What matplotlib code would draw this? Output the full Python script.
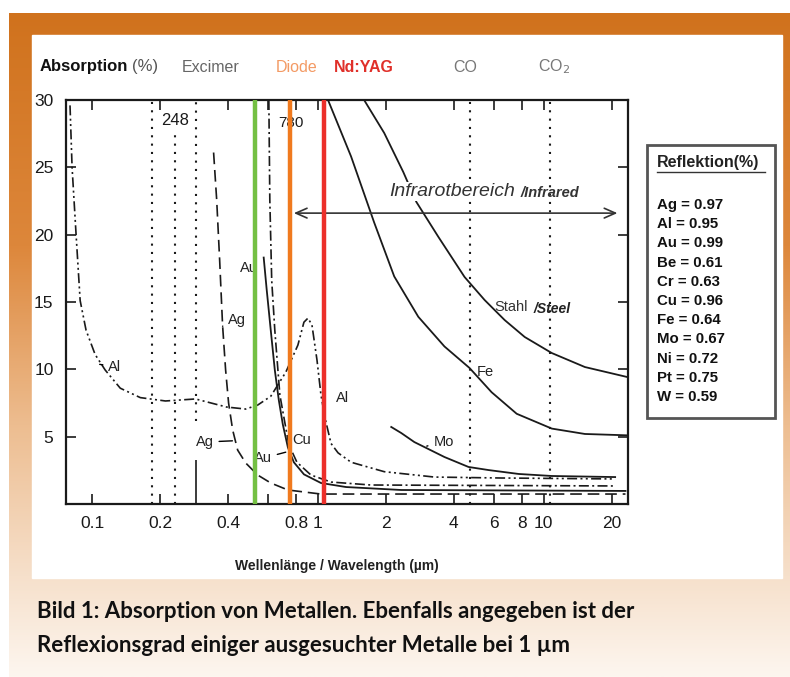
import matplotlib
matplotlib.use("Agg")
import matplotlib.pyplot as plt
import numpy as np
from matplotlib.colors import LinearSegmentedColormap
from matplotlib.patches import Rectangle
from matplotlib.ticker import NullLocator

plt.rcParams['font.family'] = ['Liberation Sans', 'DejaVu Sans']

# absorption (%) over wavelength (um)
al_wl = [0.0798, 0.0815, 0.0849, 0.0885, 0.094, 0.1031, 0.1142, 0.1332, 0.1634, 0.2111, 0.287, 0.394,
         0.4786, 0.5412, 0.618, 0.721, 0.8149, 0.8666, 0.9028, 0.9404, 0.9899, 1.031, 1.074, 1.142,
         1.227, 1.402, 1.965, 3.279, 6.507, 20.7]
al_abs = [29.6, 25.0, 20.0, 15.1, 12.9, 11.1, 9.95, 8.6, 7.9, 7.65, 7.8, 7.2,
          7.05, 7.35, 8.0, 9.8, 11.8, 13.5, 13.8, 13.3, 10.7, 8.1, 6.4, 4.5,
          3.8, 3.1, 2.4, 2.0, 1.93, 1.86]

ag_wl = [0.345, 0.356, 0.367, 0.378, 0.390, 0.402, 0.419, 0.441, 0.479, 0.541, 0.618, 0.736, 1.03, 23.0]
ag_abs = [26.1, 22.6, 18.1, 13.3, 9.95, 7.5, 5.5, 4.0, 3.04, 2.15, 1.56, 1.04, 0.74, 0.74]

au_wl = [0.575, 0.593, 0.618, 0.644, 0.671, 0.699, 0.736, 0.782, 0.867, 1.031, 1.331, 2.339, 23.0]
au_abs = [18.3, 15.9, 12.9, 9.95, 7.7, 5.9, 4.2, 3.1, 2.2, 1.56, 1.26, 1.04, 0.97]

cu_wl = [0.606, 0.612, 0.624, 0.644, 0.678, 0.743, 0.807, 0.931, 1.142, 1.72, 20.7]
cu_abs = [30.0, 22.6, 16.6, 12.9, 8.1, 4.4, 3.1, 2.15, 1.63, 1.41, 1.34]

fe_wl = [1.108, 1.402, 1.774, 2.176, 2.782, 3.631, 4.69, 5.874, 7.586, 10.85, 15.21, 23.4]
fe_abs = [30.0, 25.8, 20.9, 16.9, 13.9, 11.7, 10.1, 8.3, 6.7, 5.6, 5.2, 5.1]

steel_wl = [1.601, 1.965, 2.387, 2.727, 3.415, 4.457, 5.468, 6.709, 8.234, 10.85, 15.21, 23.4]
steel_abs = [30.0, 27.55, 24.65, 22.43, 19.83, 16.86, 15.15, 13.66, 12.40, 11.21, 10.17, 9.43]

mo_wl = [2.111, 2.338, 2.671, 2.959, 3.631, 4.642, 5.696, 7.743, 10.85, 20.7]
mo_abs = [5.72, 5.27, 4.60, 4.23, 3.49, 2.75, 2.52, 2.23, 2.08, 2.0]

# laser wavelengths (um)
green_wl = 0.525
diode_wl = 0.75
ndyag_wl = 1.064
excimer_wl = [0.185, 0.232, 0.288]
excimer_top = [30, 27.4, 30]
excimer_bottom = [0, 0, 6.2]
co_wl = 4.7
co2_wl = 10.6

xticks = [0.1, 0.2, 0.4, 0.6, 0.8, 1, 2, 4, 6, 8, 10, 20]
xtick_labels = ['0.1', '0.2', '0.4', '', '0.8', '1', '2', '4', '6', '8', '10', '20']
yticks = [5, 10, 15, 20, 25, 30]

metals = ['Ag', 'Al', 'Au', 'Be', 'Cr', 'Cu', 'Fe', 'Mo', 'Ni', 'Pt', 'W']
reflexion = ['0.97', '0.95', '0.99', '0.61', '0.63', '0.96', '0.64', '0.67', '0.72', '0.75', '0.59']

fig = plt.figure(figsize=(7.9, 6.77), dpi=100)

# frame / background in pixel coordinates
bg = fig.add_axes([0, 0, 1, 1], zorder=0)
frame = LinearSegmentedColormap.from_list(
    'frame', [(0, '#d0721d'), (0.35, '#dd873b'), (0.62, '#edbd90'), (0.85, '#f6e0cb'), (1, '#fdf6ef')])
bg.imshow(np.linspace(0, 1, 256).reshape(-1, 1), cmap=frame, extent=[9, 790, 677, 13], aspect='auto')
bg.add_patch(Rectangle((32, 35), 750, 543, color='white'))
bg.set_xlim(0, 790)
bg.set_ylim(677, 0)
bg.axis('off')

# header
bg.text(40, 67, 'Absorption', weight='bold', size=12, va='center', color='#111')
bg.text(132, 67, '(%)', size=12, va='center', color='#555')
bg.text(182, 67, 'Excimer', size=11.5, va='center', color='#666')
bg.text(276, 67, 'Diode', size=11.5, va='center', color='#f39a64')
bg.text(334, 67, 'Nd:YAG', weight='bold', size=11.5, va='center', color='#e0302a')
bg.text(453, 67, 'CO', size=11.5, va='center', color='#777')
bg.text(538, 67, 'CO$_2$', size=11.5, va='center', color='#777')

# reflexion box
bg.add_patch(Rectangle((647, 145), 128, 273, fill=False, lw=2, ec='#555'))
bg.text(657, 163, 'Reflektion(%)', weight='bold', size=11.5, va='center', color='#222')
bg.plot([657, 765], [172, 172], color='#333', lw=1)
for i, (m, r) in enumerate(zip(metals, reflexion)):
    bg.text(657, 205 + i * 19.2, m + ' = ' + r, weight='bold', size=10.8, va='center', color='#111')

# caption
cap = ['Liberation Sans Narrow', 'Lato', 'DejaVu Sans']
bg.text(37, 612, 'Bild 1: Absorption von Metallen. Ebenfalls angegeben ist der',
        family=cap, weight='bold', size=16, va='center', color='#111')
bg.text(37, 645, 'Reflexionsgrad einiger ausgesuchter Metalle bei 1 µm',
        family=cap, weight='bold', size=16, va='center', color='#111')

bg.text(337, 566, 'Wellenlänge / Wavelength (µm)', weight='bold', size=10, ha='center', va='center',
        color='#222')

# chart
ax = fig.add_axes([66 / 790, 1 - 504 / 677, 562 / 790, 404 / 677], zorder=1)
ax.set_xscale('log')
ax.set_xlim(0.0766, 23.6)
ax.set_ylim(0, 30)

k = '#1a1a1a'
ax.plot(al_wl, al_abs, color=k, lw=1.2, dashes=[6, 2, 1.2, 2, 1.2, 2])
ax.plot(ag_wl, ag_abs, color=k, lw=1.2, dashes=[7, 3.5])
ax.plot(au_wl, au_abs, color=k, lw=1.3)
ax.plot(cu_wl, cu_abs, color=k, lw=1.2, dashes=[6, 2, 1.2, 2])
ax.plot(fe_wl, fe_abs, color=k, lw=1.3)
ax.plot(steel_wl, steel_abs, color=k, lw=1.3)
ax.plot(mo_wl, mo_abs, color=k, lw=1.3)

for w, t, b in zip(excimer_wl, excimer_top, excimer_bottom):
    ax.vlines(w, b, t, color=k, lw=1.5, linestyles=(0, (1, 3)))
ax.vlines([co_wl, co2_wl], 0, 30, color=k, lw=1.5, linestyles=(0, (1, 3)))
ax.vlines(excimer_wl[2], 0, 3.3, color=k, lw=1.2)

ax.axvline(green_wl, color='#74c043', lw=3.2, zorder=5)
ax.axvline(diode_wl, color='#f07a1e', lw=3.2, zorder=5)
ax.axvline(ndyag_wl, color='#ec2f2a', lw=3.2, zorder=5)

ax.text(0.233, 28.5, '248', size=12, ha='center', va='center', color=k,
        bbox=dict(fc='white', ec='none', pad=1))
ax.text(0.76, 28.3, '780', size=11, ha='center', va='center', color=k, zorder=3)

ax.annotate('', xy=(0.76, 21.6), xytext=(21.8, 21.6),
            arrowprops=dict(arrowstyle='<->,head_length=0.8,head_width=0.35', color='#333', lw=1.2))
ax.text(2.069, 23.2, 'Infrarotbereich', style='italic', size=14, va='center', color='#333',
        bbox=dict(fc='white', ec='none', pad=1))
ax.text(7.9, 23.1, '/Infrared', style='italic', weight='bold', size=10.5, va='center', color='#333')
ax.text(6.06, 14.6, 'Stahl', size=10.5, va='center', color='#333')
ax.text(9.0, 14.5, '/Steel', style='italic', weight='bold', size=10, va='center', color='#222')

lab = dict(size=10.5, va='center', color='#222')
ax.annotate('Al', xy=(0.105, 10.4), xytext=(0.118, 10.2), arrowprops=dict(arrowstyle='-', lw=1), **lab)
ax.annotate('Ag', xy=(0.378, 13.2), xytext=(0.40, 13.7), arrowprops=dict(arrowstyle='-', lw=1), **lab)
ax.text(0.452, 17.5, 'Au', zorder=2, **lab)
ax.annotate('Ag', xy=(0.43, 4.7), xytext=(0.287, 4.6), arrowprops=dict(arrowstyle='-', lw=1), **lab)
ax.annotate('Au', xy=(0.74, 3.9), xytext=(0.52, 3.4), arrowprops=dict(arrowstyle='-', lw=1), **lab)
ax.text(0.766, 4.75, 'Cu', **lab)
ax.text(1.202, 7.87, 'Al', **lab)
ax.annotate('Mo', xy=(2.95, 4.25), xytext=(3.244, 4.6), arrowprops=dict(arrowstyle='-', lw=1), **lab)
ax.text(5.04, 9.8, 'Fe', **lab)

ax.set_xticks(xticks)
ax.set_xticklabels(xtick_labels)
ax.xaxis.set_minor_locator(NullLocator())
ax.set_yticks(yticks)
ax.tick_params(direction='in', length=7, width=1.2, top=True, right=True, labelsize=12.5, colors=k)
ax.tick_params(axis='x', pad=9)
ax.tick_params(axis='y', pad=9)
for s in ax.spines.values():
    s.set_linewidth(1.6)
    s.set_color(k)

fig.savefig('out.png', dpi=100)
